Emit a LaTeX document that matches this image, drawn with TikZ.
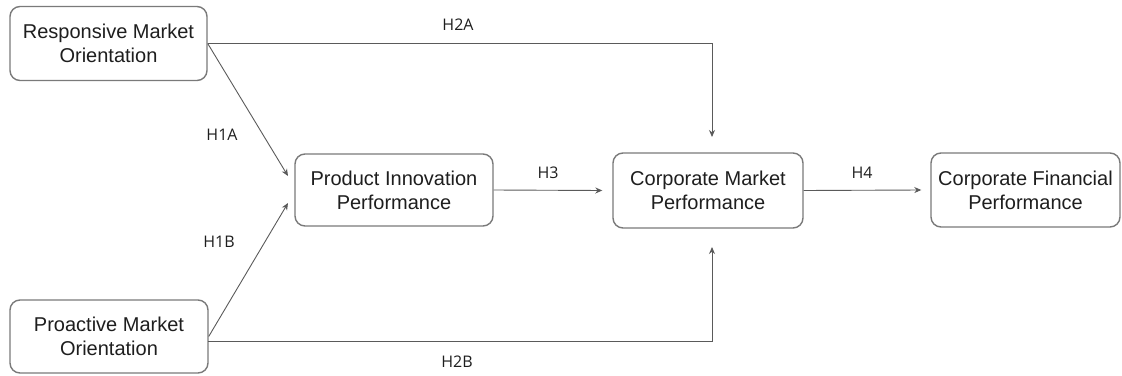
\documentclass[tikz,border=0pt]{standalone}
\usepackage{fontspec}
\setmainfont{Liberation Sans}
\newfontfamily\labelfont{Open Sans}
\usetikzlibrary{arrows.meta,calc}
\definecolor{boxline}{HTML}{7A7A7A}
\definecolor{arrline}{HTML}{5A5A5A}
\definecolor{txt}{HTML}{1E1E1E}
\tikzset{
  box/.style={draw=boxline, line width=1.4pt, rounded corners=10pt, fill=white,
    align=center, text=txt, inner sep=0pt,
    font=\fontsize{20}{24}\selectfont},
  arr/.style={draw=arrline, line width=0.9pt, -{Stealth[length=7pt,width=6pt]}},
  hlabel/.style={text=txt, font=\labelfont\fontsize{16}{18}\selectfont, inner sep=0pt}
}
\begin{document}
\begin{tikzpicture}[x=1pt,y=-1pt]
\useasboundingbox (0,0) rectangle (1122,375);
\node[box, minimum width=197pt, minimum height=74pt] (rmo) at (108.5,43.5) {Responsive Market\\Orientation};
\node[box, minimum width=198pt, minimum height=73pt] (pmo) at (109,336.5) {Proactive Market\\Orientation};
\node[box, minimum width=198pt, minimum height=72pt] (pip) at (394,190) {Product Innovation\\Performance};
\node[box, minimum width=190pt, minimum height=75pt] (cmp) at (708,190.5) {Corporate Market\\Performance};
\node[box, minimum width=189pt, minimum height=74pt] (cfp) at (1025.5,190) {Corporate Financial\\Performance};

\coordinate (t1a) at (288,176);
\coordinate (t1b) at (288,203);
\coordinate (t2a) at (712,137);
\coordinate (t2b) at (712,247);
\coordinate (pmoe) at (208,341);

\draw[arr] (rmo.east) -- (t1a);
\draw[arr] (pmo.east) -- (t1b);
\draw[arr] (rmo.east) -| (t2a);
\draw[arr] (pmoe) -| (t2b);
\draw[arr] (pip.east) -- ($(cmp.west)+(-10,0)$);
\draw[arr] (cmp.east) -- ($(cfp.west)+(-9,0)$);

\node[hlabel] (h2a) at (458,25) {H2A};
\node[hlabel] (h1a) at (222,135) {H1A};
\node[hlabel] (h1b) at (219,242) {H1B};
\node[hlabel] (h2b) at (457,362) {H2B};
\node[hlabel] (h3) at (548,173) {H3};
\node[hlabel] (h4) at (862,173) {H4};
\end{tikzpicture}
\end{document}
